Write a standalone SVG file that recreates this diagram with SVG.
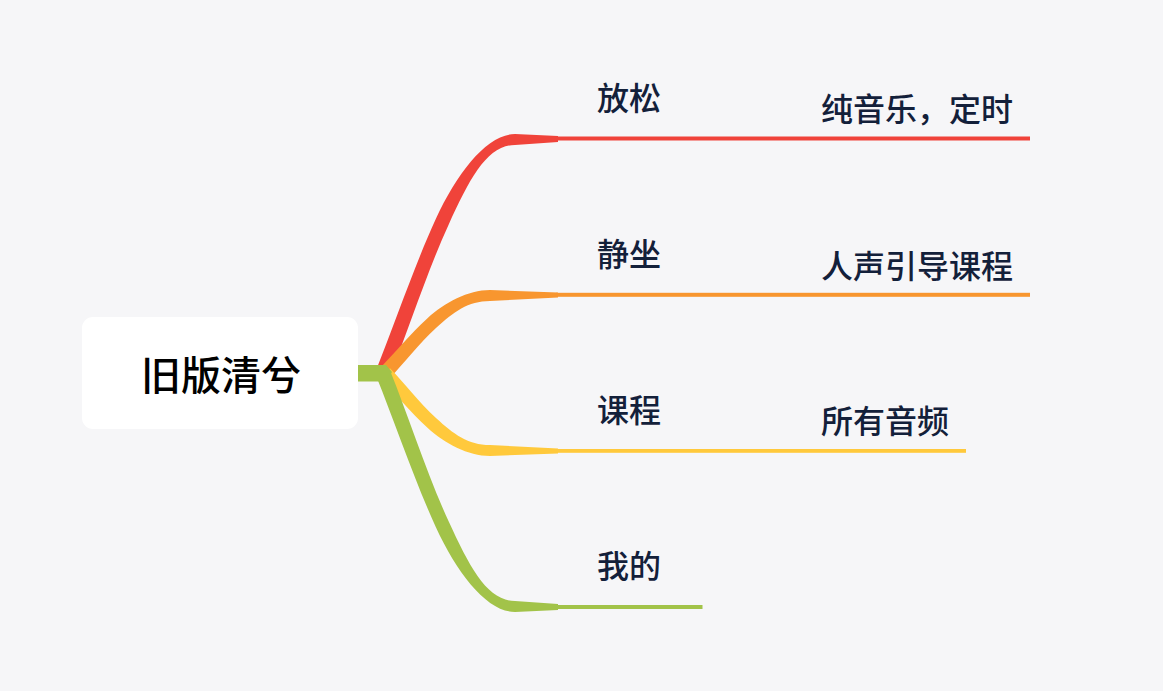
<svg xmlns="http://www.w3.org/2000/svg" width="1163" height="691" viewBox="0 0 1163 691">
  <style>
    .lbl { font-family: "Noto Sans CJK SC", "Noto Sans", sans-serif; font-size: 32px; font-weight: 500; fill: #13203A; }
    .title { font-family: "Noto Sans CJK SC", "Noto Sans", sans-serif; font-size: 40px; font-weight: 500; fill: #000000; }
    .red { fill: #F0433A; }
    .orange { fill: #F8962F; }
    .yellow { fill: #FFC93C; }
    .green { fill: #A2C349; }
  </style>
  <rect x="0" y="0" width="1163" height="691" fill="#F6F6F8"/>

  <g id="connectors">
    <!-- red branch -->
    <path class="red" d="M376.05,370.2 C394.55,324.2 414.39,265.7 435.89,218.83 C457.39,171.96 487.5,134 515,134 L558,136 L558,142 L515,145 C487.5,145 470.11,177.79 448.61,224.67 C427.11,271.55 408.45,329.8 389.95,375.8 Z"/>
    <rect class="red" x="556" y="136.5" width="474" height="4"/>
    <!-- orange branch -->
    <path class="orange" d="M379.97,368.13 C394.47,353.13 410.37,333.82 427.49,318.2 C444.62,302.57 468,290 490,290 L558,292.5 L558,297.5 L490,301 C468,301 453.38,312.18 436.26,327.8 C419.13,343.43 404.53,362.87 390.03,377.87 Z"/>
    <rect class="orange" x="556" y="292.8" width="474" height="4"/>
    <!-- yellow branch -->
    <path class="yellow" d="M379.97,377.87 C394.47,392.87 410.37,412.18 427.49,427.8 C444.62,443.43 468,456 490,456 L558,453.5 L558,448.5 L490,445 C468,445 453.38,433.82 436.26,418.2 C419.13,402.57 404.53,383.13 390.03,368.13 Z"/>
    <rect class="yellow" x="556" y="449" width="410" height="3.8"/>
    <!-- green branch -->
    <path class="green" d="M376.05,375.8 C394.55,421.8 414.39,480.3 435.89,527.17 C457.39,574.04 487.5,612 515,612 L558,610 L558,604 L515,601 C487.5,601 470.11,568.21 448.61,521.33 C427.11,474.45 408.45,416.2 389.95,370.2 Z"/>
    <rect class="green" x="556" y="605" width="146.5" height="4"/>
    <!-- root stub -->
    <path class="green" d="M357,365 L386,365 L392,372 L386,381.5 L357,381.5 Z"/>
  </g>

  <g id="root">
    <rect x="82" y="317" width="276" height="112" rx="11" ry="11" fill="#FFFFFF"/>
    <text class="title" x="221" y="390" text-anchor="middle">旧版清兮</text>
  </g>

  <g id="node-relax">
    <text class="lbl" x="597" y="109.5">放松</text>
  </g>
  <g id="node-relax-sub">
    <text class="lbl" x="821" y="121">纯音乐，定时</text>
  </g>

  <g id="node-sit">
    <text class="lbl" x="597" y="265.5">静坐</text>
  </g>
  <g id="node-sit-sub">
    <text class="lbl" x="821" y="277.5">人声引导课程</text>
  </g>

  <g id="node-course">
    <text class="lbl" x="597" y="421.5">课程</text>
  </g>
  <g id="node-course-sub">
    <text class="lbl" x="821" y="433">所有音频</text>
  </g>

  <g id="node-mine">
    <text class="lbl" x="597" y="577.5">我的</text>
  </g>
</svg>
